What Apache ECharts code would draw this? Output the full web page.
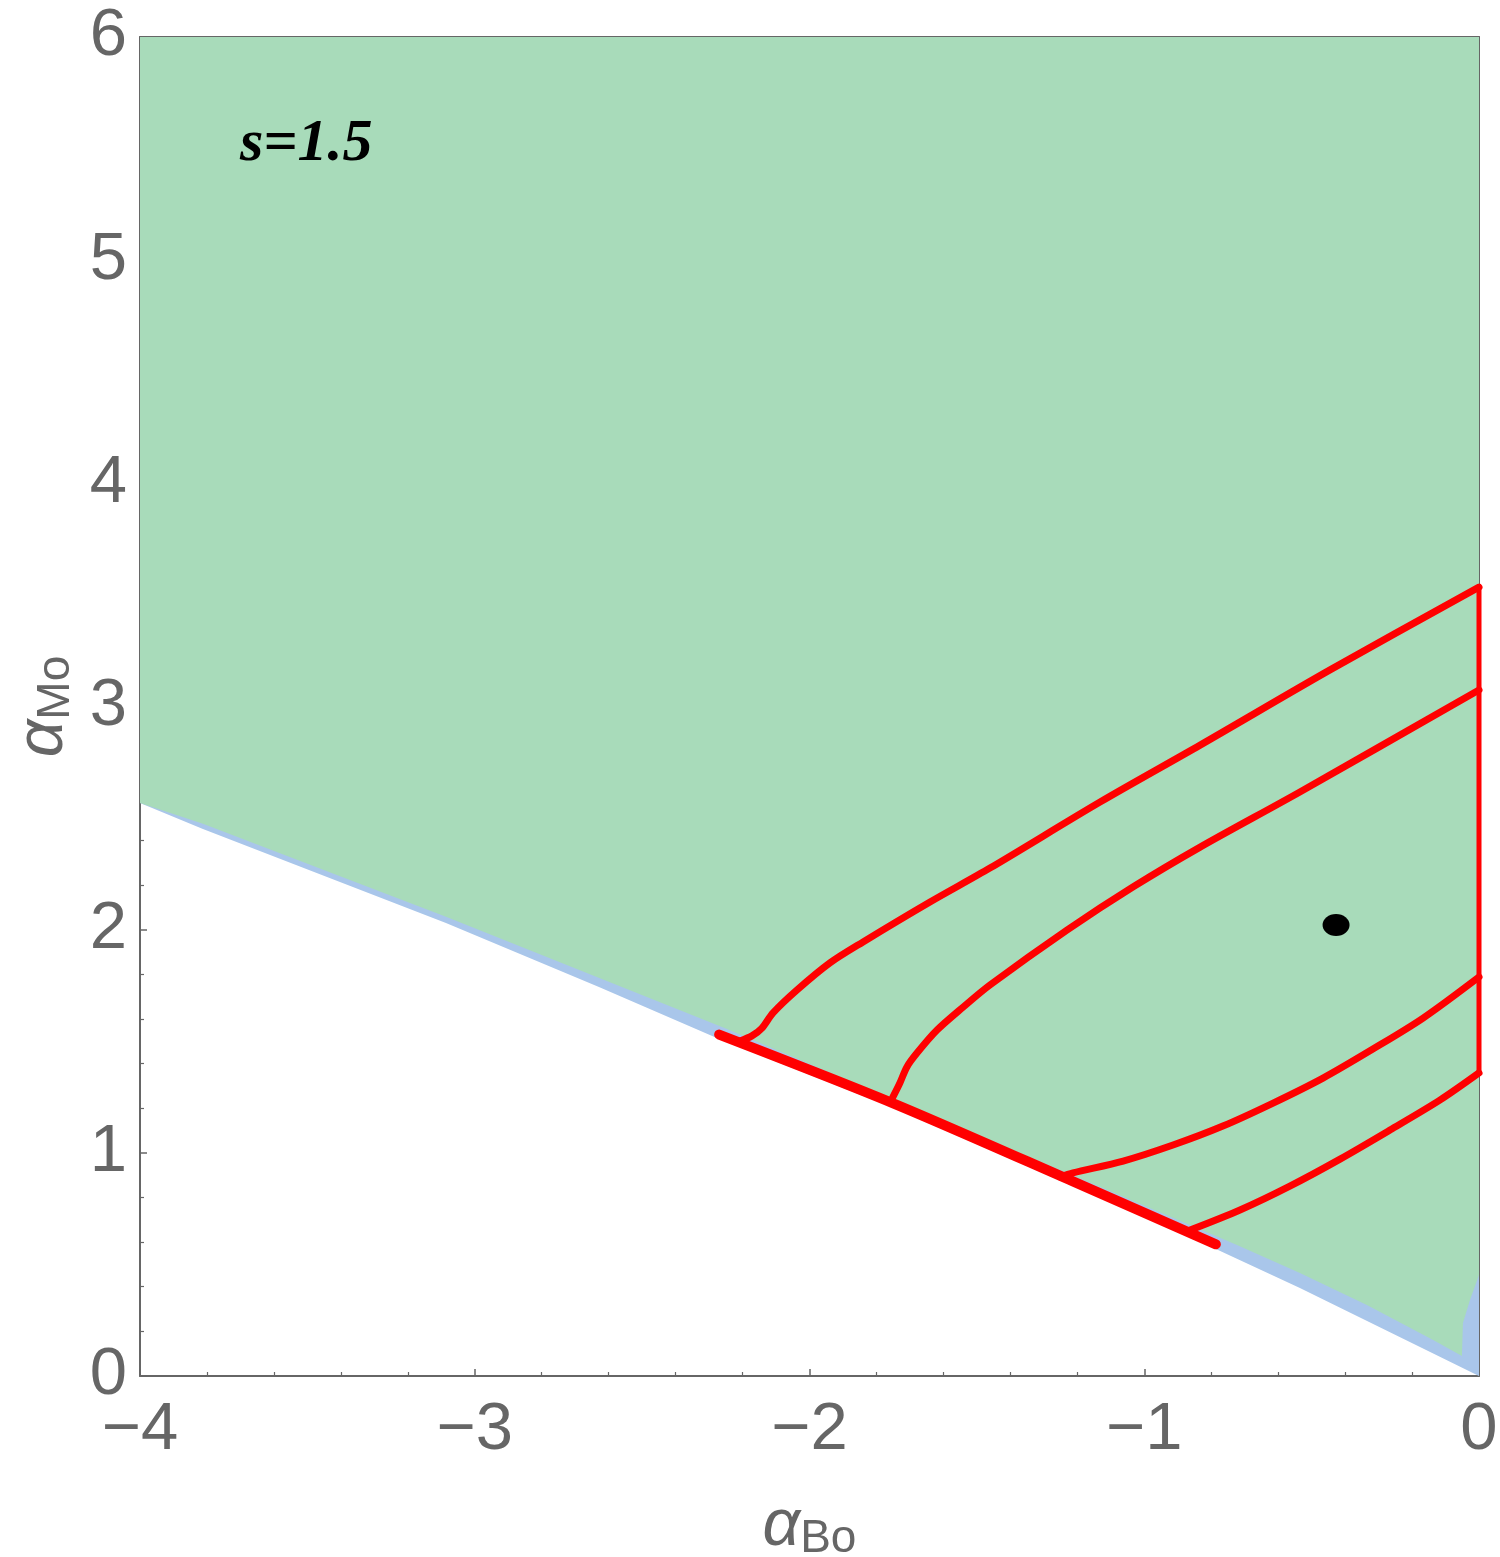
<!DOCTYPE html>
<html>
<head>
<meta charset="utf-8">
<style>
  html, body { margin: 0; padding: 0; background: #fff; }
  #main { width: 1500px; height: 1557px; }
</style>
<script src="https://cdn.jsdelivr.net/npm/echarts@6/dist/echarts.min.js"></script>
</head>
<body>
<div id="main"></div>
<script>
// axis ticks
var xTicks = [-4, -3, -2, -1, 0];
var yTicks = [0, 1, 2, 3, 4, 5, 6];

// lower edge of the shaded (blue) region, white below it
var whiteEdge = [[-4, 2.568], [-3.812, 2.451], [-3.086, 2.03], [-2.629, 1.743], [-2.27, 1.51],
  [-1.748, 1.201], [-1.213, 0.851], [-0.786, 0.569], [-0.535, 0.394], [0, 0]];

// lower edge of the green region (blue strip between)
var greenEdge = [[-4, 2.568], [-3.812, 2.475], [-3.086, 2.058], [-2.252, 1.558], [-1.431, 1.037],
  [-0.723, 0.587], [-0.535, 0.462], [-0.335, 0.318], [-0.137, 0.161], [-0.051, 0.09],
  [-0.048, 0.237], [-0.027, 0.341], [0, 0.453]];

// thick red segment along the boundary
var redBand = [[-2.27, 1.53], [-1.75, 1.222], [-1.213, 0.872], [-0.786, 0.59]];

// red contour curves
var curve1 = [[-2.208, 1.501], [-2.172, 1.524], [-2.142, 1.559], [-2.109, 1.627], [-2.037, 1.73],
  [-1.939, 1.851], [-1.84, 1.945], [-1.64, 2.124], [-1.461, 2.276], [-1.132, 2.572],
  [-0.833, 2.827], [-0.445, 3.164], [0, 3.535]];
var curve2 = [[-1.751, 1.25], [-1.73, 1.313], [-1.709, 1.385], [-1.679, 1.447], [-1.619, 1.55],
  [-1.541, 1.653], [-1.461, 1.752], [-1.231, 1.998], [-1.034, 2.191],
  [-0.833, 2.37], [-0.535, 2.617], [0, 3.074]];
var curve3 = [[-1.252, 0.892], [-1.213, 0.91], [-1.063, 0.963], [-0.914, 1.035], [-0.765, 1.12],
  [-0.615, 1.223], [-0.466, 1.335], [-0.317, 1.465], [-0.167, 1.604], [0, 1.788]];
var curve4 = [[-0.863, 0.654], [-0.714, 0.744], [-0.565, 0.851], [-0.415, 0.972], [-0.266, 1.102],
  [-0.117, 1.236], [0, 1.358]];
var rightEdge = [[0, 1.358], [0, 3.535]];

// marked point
var point = [[-0.427, 2.021]];

var gray = '#666666';
var font = 'Liberation Sans';

var chart = echarts.init(document.getElementById('main'), null, { renderer: 'canvas' });

function axisBase(pos, lab) {
  return {
    type: 'value',
    position: pos,
    axisLine: { show: true, onZero: false, lineStyle: { color: gray, width: 2 } },
    axisTick: { show: true, inside: true, length: 7, lineStyle: { color: gray, width: 1.5 } },
    minorTick: { show: true, splitNumber: 5, length: 4, lineStyle: { color: gray, width: 1.2 } },
    splitLine: { show: false },
    axisLabel: lab
  };
}

function minus(v) {
  return String(v).replace('-', '\u2212');
}

var nameStyle = {
  color: gray, fontFamily: font,
  rich: {
    a: { fontSize: 66, color: gray, fontFamily: font, fontStyle: 'italic', lineHeight: 70, verticalAlign: 'middle' },
    s: { fontSize: 46, color: gray, fontFamily: font, lineHeight: 70, verticalAlign: 'bottom', padding: [30, 0, 0, 0] }
  }
};

var xBottom = axisBase('bottom', { show: true, color: gray, fontSize: 67, fontFamily: font, margin: 21, formatter: minus });
xBottom.min = xTicks[0]; xBottom.max = xTicks[xTicks.length - 1]; xBottom.interval = 1;
xBottom.name = '{a|\u03b1}{s|Bo}';
xBottom.nameLocation = 'middle';
xBottom.nameGap = 116;
xBottom.nameTextStyle = nameStyle;
var xTop = axisBase('top', { show: false });
xTop.min = xTicks[0]; xTop.max = xTicks[xTicks.length - 1]; xTop.interval = 1;

var yLeft = axisBase('left', { show: true, color: gray, fontSize: 67, fontFamily: font, margin: 13 });
yLeft.min = yTicks[0]; yLeft.max = yTicks[yTicks.length - 1]; yLeft.interval = 1;
yLeft.name = '{a|\u03b1}{s|Mo}';
yLeft.nameLocation = 'middle';
yLeft.nameGap = 60;
yLeft.nameRotate = 90;
yLeft.nameTextStyle = nameStyle;
var yRight = axisBase('right', { show: false });
yRight.min = yTicks[0]; yRight.max = yTicks[yTicks.length - 1]; yRight.interval = 1;

function redLine(d, w) {
  return {
    type: 'line', data: d, symbol: 'none', smooth: 0.3, z: 5,
    lineStyle: { color: '#ff0000', width: w, cap: 'round', join: 'round' }
  };
}

var option = {
  animation: false,
  grid: { left: 140, right: 21, top: 37, bottom: 181, containLabel: false, outerBoundsMode: 'none' },
  xAxis: [xBottom, xTop],
  yAxis: [yLeft, yRight],
  graphic: [{
    type: 'text', left: 240, top: 114, z: 100,
    style: { text: 's=1.5', fill: '#000', font: 'italic bold 60px "Liberation Serif"' }
  }],
  series: [
    {
      type: 'line', data: whiteEdge, symbol: 'none', z: 1,
      lineStyle: { width: 0 },
      areaStyle: { color: '#a9c6ea', opacity: 1, origin: 'end' }
    },
    {
      type: 'line', data: greenEdge, symbol: 'none', z: 2,
      lineStyle: { width: 0 },
      areaStyle: { color: '#a8dbba', opacity: 1, origin: 'end' }
    },
    redLine(redBand, 10),
    redLine(curve1, 7),
    redLine(curve2, 7),
    redLine(curve3, 7),
    redLine(curve4, 7),
    redLine(rightEdge, 5),
    {
      type: 'scatter', data: point, symbol: 'circle', symbolSize: [27, 22], z: 6,
      itemStyle: { color: '#000', opacity: 1 }
    }
  ]
};

chart.setOption(option);
</script>
</body>
</html>
